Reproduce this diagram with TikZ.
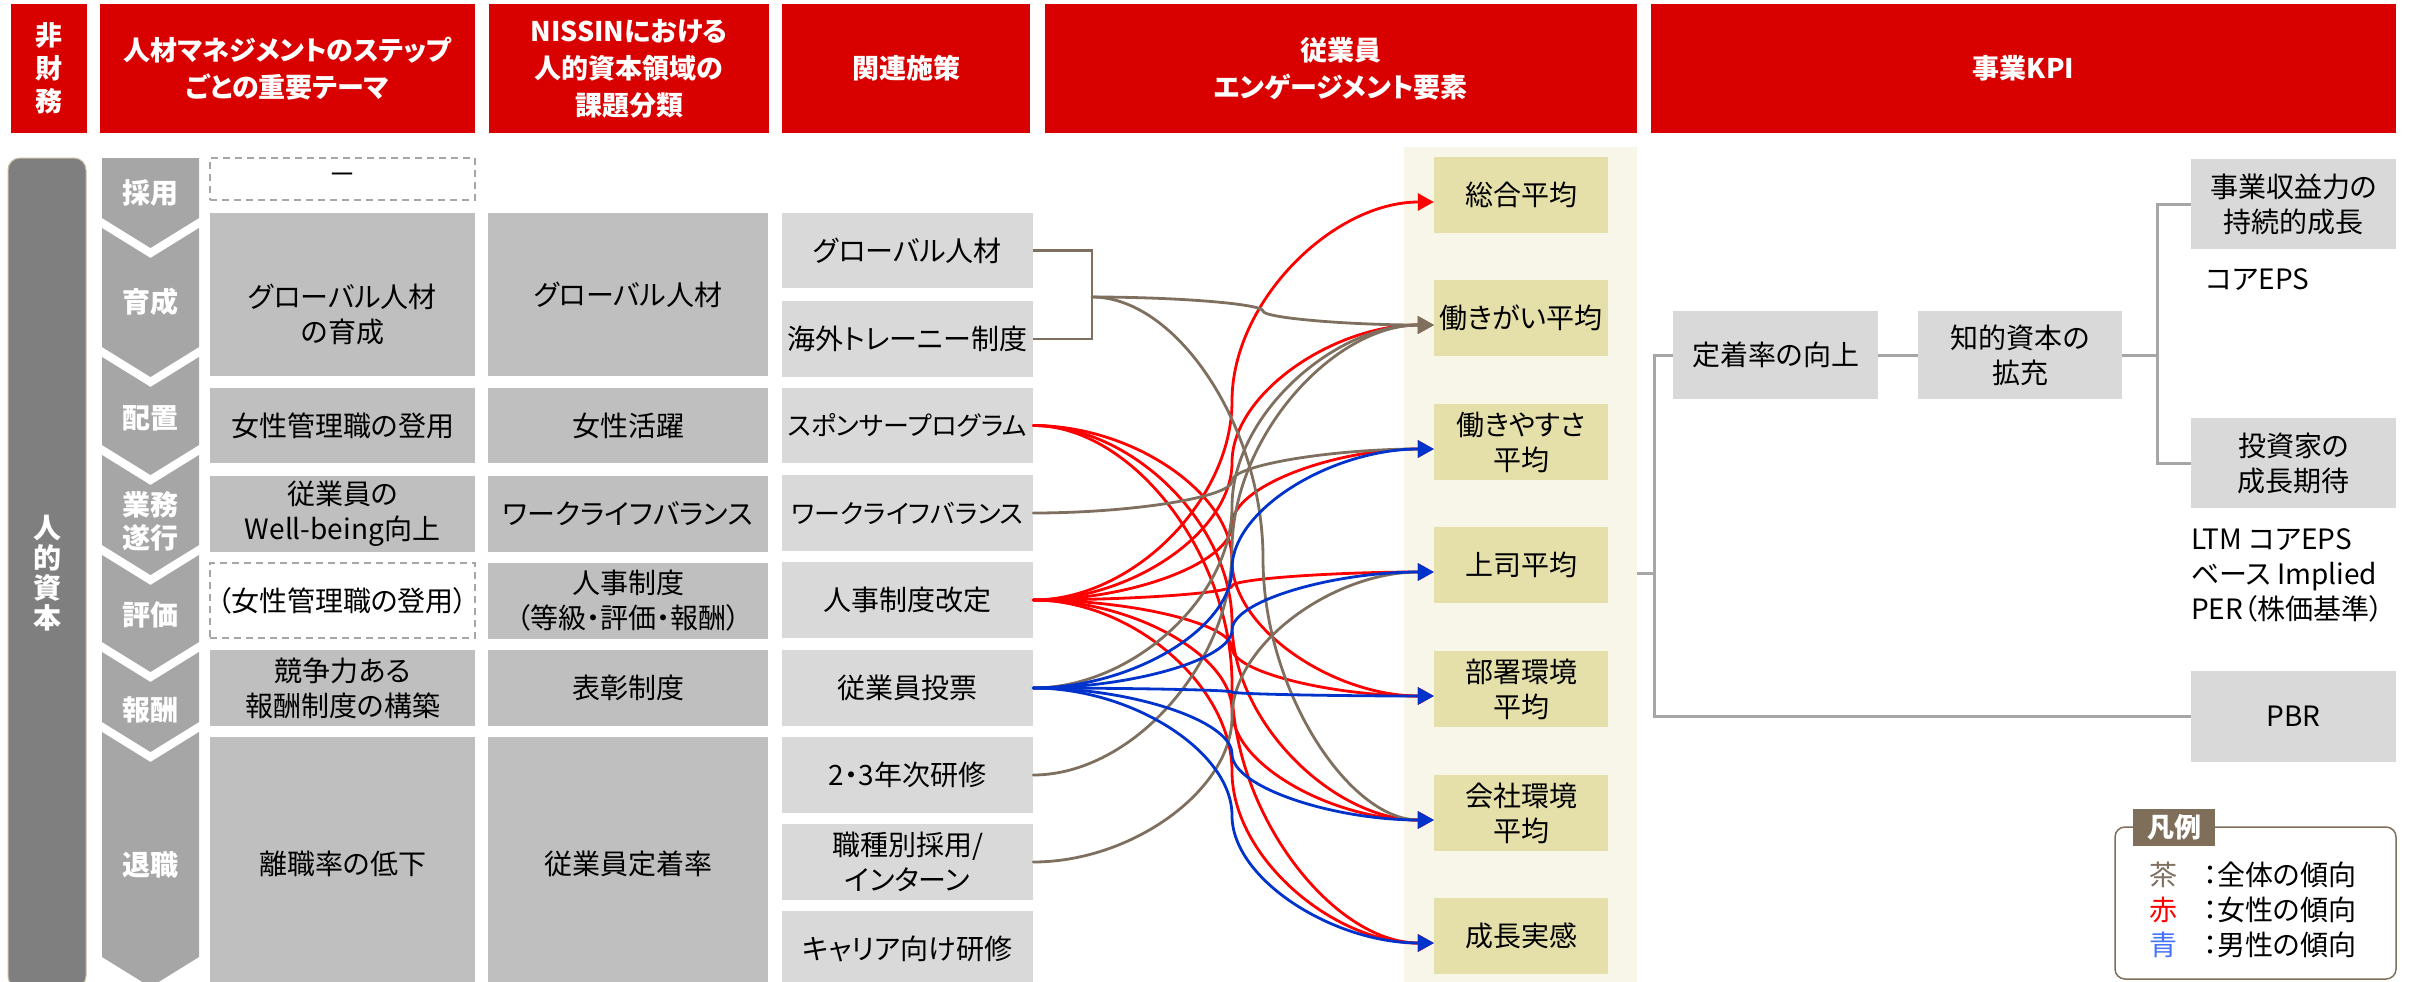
\documentclass[tikz,border=0pt]{standalone}
\usepackage{fontspec}
\setmainfont{Noto Sans CJK JP}[RawFeature=+palt]
\usetikzlibrary{arrows.meta,calc}
\definecolor{hdr}{RGB}{217,0,0}
\definecolor{gA}{RGB}{191,191,191}
\definecolor{gB}{RGB}{217,217,217}
\definecolor{chev}{RGB}{166,166,166}
\definecolor{barc}{RGB}{127,127,127}
\definecolor{barline}{RGB}{200,190,160}
\definecolor{engc}{RGB}{229,224,170}
\definecolor{panelc}{RGB}{248,246,233}
\definecolor{cRed}{RGB}{255,0,0}
\definecolor{cBlue}{RGB}{0,51,204}
\definecolor{cBrown}{RGB}{127,111,95}
\definecolor{lnGray}{RGB}{166,166,166}
\definecolor{lgBlue}{RGB}{68,114,255}
\definecolor{legBr}{RGB}{127,111,90}
\newcommand\cn[4]{%
  \draw[#1] let \p1=(#2), \p2=([yshift=-7pt]#3.west) in
   (\p1) .. controls ({(\x1+#4pt)/2},\y1) and (#4pt,{\y1+(\y2-\y1)/4}) .. (#4pt,{(\y1+\y2)/2})
   .. controls (#4pt,{\y1+3*(\y2-\y1)/4}) and ({(#4pt+\x2)/2},\y2) .. (\p2);}
\begin{document}
\begin{tikzpicture}[x=1pt,y=-1pt,
  sz/.style 2 args={minimum width=#1pt, minimum height=#2pt},
  hd/.style={fill=hdr, text=white, font=\fontsize{27pt}{37pt}\selectfont\bfseries, align=center, inner sep=0pt},
  txt/.style={font=\fontsize{28pt}{35pt}\selectfont, align=center, inner sep=0pt, text=black},
  sm/.style={font=\fontsize{26pt}{35pt}\selectfont},
  bA/.style={txt, fill=gA},
  bB/.style={txt, fill=gB},
  dsh/.style={txt, draw=lnGray, dash pattern=on 7pt off 5pt, line width=1.6pt, fill=white},
  eng/.style={txt, fill=engc},
  wl/.style={text=white, font=\fontsize{28pt}{33pt}\selectfont\bfseries, align=center, inner sep=0pt},
  cline/.style={line width=2.8pt, line cap=round},
  rl/.style={cline, draw=cRed, -{Triangle[length=16pt,width=17pt]}},
  bl/.style={cline, draw=cBlue, -{Triangle[length=16pt,width=17pt]}},
  brl/.style={cline, draw=cBrown, -{Triangle[length=16pt,width=17pt]}},
  brk/.style={line width=2.8pt, draw=cBrown},
  gl/.style={line width=3pt, draw=lnGray}]
\useasboundingbox (0,0) rectangle (2427,982);
% headers
\node[hd, sz={76}{129}, font=\fontsize{27pt}{33pt}\selectfont\bfseries] (h1) at (49,68.5) {非\\財\\務};
\node[hd, sz={375}{129}] (h2) at (287.5,68.5) {人材マネジメントのステップ\\ごとの重要テーマ};
\node[hd, sz={280}{129}] (h3) at (629,68.5) {NISSINにおける\\人的資本領域の\\課題分類};
\node[hd, sz={248}{129}] (h4) at (906,68.5) {関連施策};
\node[hd, sz={592}{129}] (h5) at (1341,68.5) {従業員\\エンゲージメント要素};
\node[hd, sz={745}{129}] (h6) at (2023.5,68.5) {事業KPI};
% human capital bar
\node[fill=barc, draw=barline, line width=1pt, rounded corners=12pt, sz={78}{830}, wl, font=\fontsize{28pt}{30pt}\selectfont\bfseries] (hr) at (47,573) {人\\的\\資\\本};
% chevrons
\fill[chev] (102,158) -- (199,158) -- (199,218) -- (150.5,248) -- (102,218) -- cycle;
\foreach \t/\b in {228/347,357/445,455/545,555/642,652/722,732/957}{
  \fill[chev] (102,\t) -- (150.5,\t+30) -- (199,\t) -- (199,\b) -- (150.5,\b+30) -- (102,\b) -- cycle;}
\node[wl] (s1) at (150.5,193) {採用};
\node[wl] (s2) at (150.5,302) {育成};
\node[wl] (s3) at (150.5,418) {配置};
\node[wl] (s4) at (150.5,521) {業務\\遂行};
\node[wl] (s5) at (150.5,615) {評価};
\node[wl] (s6) at (150.5,710) {報酬};
\node[wl] (s7) at (150.5,865) {退職};
% column 2
\node[dsh, sz={265}{42}] (c2a) at (342.5,179) {－};
\node[bA, sz={265}{163}] (c2b) at (342.5,294.5) {};
\node[txt] (c2bt) at (342.5,314.5) {グローバル人材\\の育成};
\node[bA, sz={265}{75}] (c2c) at (342.5,425.5) {女性管理職の登用};
\node[bA, sz={265}{76}] (c2d) at (342.5,514) {従業員の\\Well-being向上};
\node[dsh, sz={265}{75}] (c2e) at (342.5,600.5) {（女性管理職の登用）};
\node[bA, sz={265}{76}] (c2f) at (342.5,688) {競争力ある\\報酬制度の構築};
\node[bA, sz={265}{253}] (c2g) at (342.5,863.5) {離職率の低下};
% column 3
\node[bA, sz={280}{163}] (c3b) at (628,294.5) {グローバル人材};
\node[bA, sz={280}{75}] (c3c) at (628,425.5) {女性活躍};
\node[bA, sz={280}{76}] (c3d) at (628,514) {ワークライフバランス};
\node[bA, sz={280}{76}] (c3e) at (628,601) {人事制度\\（等級・評価・報酬）};
\node[bA, sz={280}{76}] (c3f) at (628,688) {表彰制度};
\node[bA, sz={280}{253}] (c3g) at (628,863.5) {従業員定着率};
% column 4
\node[bB, sz={251}{75}] (p1) at (907.5,250.5) {グローバル人材};
\node[bB, sz={251}{76}] (p2) at (907.5,339) {海外トレーニー制度};
\node[bB, sm, sz={251}{75}] (p3) at (907.5,425.5) {スポンサープログラム};
\node[bB, sm, sz={251}{76}] (p4) at (907.5,513) {ワークライフバランス};
\node[bB, sz={251}{76}] (p5) at (907.5,600) {人事制度改定};
\node[bB, sz={251}{76}] (p6) at (907.5,688) {従業員投票};
\node[bB, sz={251}{76}] (p7) at (907.5,775) {2・3年次研修};
\node[bB, sz={251}{76}] (p8) at (907.5,862) {職種別採用/\\インターン};
\node[bB, sz={251}{76}] (p9) at (907.5,949) {キャリア向け研修};
% engagement panel
\node[fill=panelc, sz={233}{843}] (pan) at (1520.5,568.5) {};
\node[eng, sz={174}{76}] (e1) at (1521,195) {総合平均};
\node[eng, sz={174}{76}] (e2) at (1521,318) {働きがい平均};
\node[eng, sz={174}{76}] (e3) at (1521,442) {働きやすさ\\平均};
\node[eng, sz={174}{76}] (e4) at (1521,565) {上司平均};
\node[eng, sz={174}{76}] (e5) at (1521,689) {部署環境\\平均};
\node[eng, sz={174}{76}] (e6) at (1521,813) {会社環境\\平均};
\node[eng, sz={174}{76}] (e7) at (1521,936) {成長実感};
% global bracket
\coordinate (gJ) at (1092,297);
\draw[brk] (p1.east) -| (gJ) |- (p2.east);
% red connectors
\cn{rl}{p5.east}{e1}{1232}
\cn{rl}{p5.east}{e2}{1232}
\cn{rl}{p5.east}{e3}{1232}
\cn{rl}{p5.east}{e4}{1232}
\cn{rl}{p5.east}{e5}{1232}
\cn{rl}{p5.east}{e6}{1232}
\cn{rl}{p5.east}{e7}{1232}
\cn{rl}{p3.east}{e5}{1232}
\cn{rl}{p3.east}{e6}{1232}
\cn{rl}{p3.east}{e7}{1232}
% brown connectors
\cn{brl}{gJ}{e2}{1263}
\cn{brl}{gJ}{e6}{1263}
\cn{brl}{p4.east}{e3}{1232}
\cn{brl}{p6.east}{e2}{1232}
\cn{brl}{p7.east}{e2}{1232}
\cn{brl}{p8.east}{e4}{1232}
% blue connectors
\cn{bl}{p6.east}{e3}{1232}
\cn{bl}{p6.east}{e4}{1232}
\cn{bl}{p6.east}{e5}{1232}
\cn{bl}{p6.east}{e6}{1232}
\cn{bl}{p6.east}{e7}{1232}
% KPI side
\node[bB, sz={205}{88}] (k1) at (1775.5,355) {定着率の向上};
\node[bB, sz={204}{88}] (k2) at (2020,355) {知的資本の\\拡充};
\node[bB, sz={205}{90}] (k3) at (2293.5,204) {事業収益力の\\持続的成長};
\node[bB, sz={205}{90}] (k4) at (2293.5,463) {投資家の\\成長期待};
\node[bB, sz={205}{91}] (k5) at (2293.5,716.5) {PBR};
\node[txt, anchor=west] (n1) at (2206,280) {コアEPS};
\node[txt, anchor=west, align=left] (n2) at (2191,575) {LTM コアEPS\\ベース Implied\\PER（株価基準）};
\coordinate (panR) at (1637,573);
\coordinate (kJ1) at (1654,573);
\coordinate (kJ2) at (2157,355);
\draw[gl] (panR) -- (kJ1);
\draw[gl] (k1.west) -| (kJ1) |- (k5.west);
\draw[gl] (k1.east) -- (k2.west);
\draw[gl] (k2.east) -- (kJ2);
\draw[gl] (k3.west) -| (kJ2) |- (k4.west);
% legend
\node[draw=legBr, line width=1.5pt, rounded corners=10pt, fill=white, sz={281}{152}] (lg) at (2255.5,903) {};
\node[fill=legBr, text=white, font=\fontsize{27pt}{30pt}\selectfont\bfseries, inner sep=0pt, sz={82}{37}] (lgt) at (2174,827.5) {凡例};
\node[txt, text=cBrown] (lc1) at (2163,875) {茶};
\node[txt, text=cRed] (lc2) at (2163,910) {赤};
\node[txt, text=lgBlue] (lc3) at (2163,945) {青};
\node[txt, anchor=west] (ld1) at (2203,875) {：全体の傾向};
\node[txt, anchor=west] (ld2) at (2203,910) {：女性の傾向};
\node[txt, anchor=west] (ld3) at (2203,945) {：男性の傾向};
\end{tikzpicture}
\end{document}
